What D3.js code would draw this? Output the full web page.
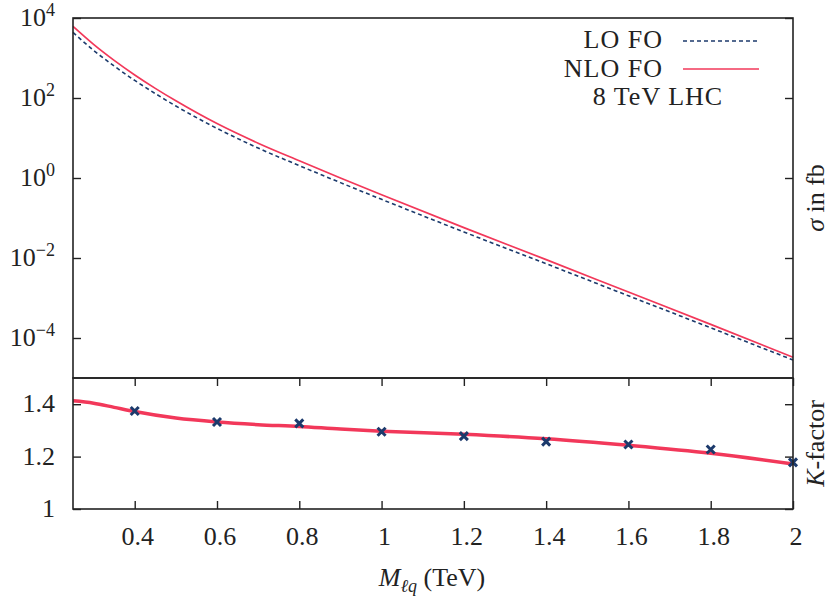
<!DOCTYPE html>
<html>
<head>
<meta charset="utf-8">
<script src="https://cdn.jsdelivr.net/npm/d3@7"></script>
<style>
  body { margin: 0; background: #fff; }
  text { font-family: "Liberation Serif", serif; fill: #222; }
</style>
</head>
<body>
<script>
// mass points (TeV) and cross sections (fb)
var mass = [0.25, 0.3, 0.35, 0.4, 0.45, 0.5, 0.6, 0.7, 0.8, 0.9, 1.0, 1.2, 1.4, 1.6, 1.8, 2.0];
var sigmaLO = [4365, 1550, 630, 275, 129, 63, 17.4, 5.6, 2.04, 0.766, 0.293, 0.0448, 0.00719, 0.001135, 1.80e-4, 2.82e-5];
var sigmaNLO = [6170, 2190, 871, 376, 174, 85, 22.9, 7.41, 2.69, 1.0, 0.38, 0.0575, 0.00912, 0.00141, 2.19e-4, 3.31e-5];

// K-factor curve and points
var kMass = [0.25, 0.3, 0.35, 0.4, 0.5, 0.6, 0.7, 0.8, 0.9, 1.0, 1.2, 1.4, 1.6, 1.8, 2.0];
var kCurve = [1.413, 1.404, 1.388, 1.372, 1.347, 1.332, 1.322, 1.315, 1.305, 1.297, 1.285, 1.268, 1.243, 1.213, 1.172];
var kPtMass = [0.4, 0.6, 0.8, 1.0, 1.2, 1.4, 1.6, 1.8, 2.0];
var kPoints = [1.374, 1.332, 1.327, 1.295, 1.278, 1.257, 1.246, 1.227, 1.178];

var xTicks = [0.4, 0.6, 0.8, 1.0, 1.2, 1.4, 1.6, 1.8, 2.0];
var yTopTicks = [1e-4, 1e-2, 1, 1e2, 1e4];
var yTopExp = ["\u22124", "\u22122", "0", "2", "4"];
var yBotTicks = [1, 1.2, 1.4];

var red = "#f2385a", navy = "#1c3a6c";

var svgWidth = 830, svgHeight = 597;
var pLeft = 73, pRight = 793, pTop = 18, pSplit = 378, pBottom = 509;

var svg = d3.select("body").append("svg")
    .attr("width", svgWidth)
    .attr("height", svgHeight);

var x = d3.scaleLinear().domain([0.25, 2]).range([pLeft, pRight]);
var yTop = d3.scaleLog().domain([1e-5, 1e4]).range([pSplit, pTop]);
var yBot = d3.scaleLinear().domain([1, 1.5]).range([pBottom, pSplit]);

// curves
var lineSigma = d3.line()
    .x(function (d, i) { return x(mass[i]); })
    .y(function (d) { return yTop(d); })
    .curve(d3.curveMonotoneX);

svg.append("path")
    .attr("d", lineSigma(sigmaLO))
    .attr("fill", "none")
    .attr("stroke", navy)
    .attr("stroke-width", 1.6)
    .attr("stroke-dasharray", "4,3");

svg.append("path")
    .attr("d", lineSigma(sigmaNLO))
    .attr("fill", "none")
    .attr("stroke", red)
    .attr("stroke-width", 1.7);

var lineK = d3.line()
    .x(function (d, i) { return x(kMass[i]); })
    .y(function (d) { return yBot(d); })
    .curve(d3.curveMonotoneX);

svg.append("path")
    .attr("d", lineK(kCurve))
    .attr("fill", "none")
    .attr("stroke", red)
    .attr("stroke-width", 3.5);

svg.selectAll(".kpt")
    .data(kPoints)
    .enter()
    .append("path")
    .attr("class", "kpt")
    .attr("transform", function (d, i) { return "translate(" + x(kPtMass[i]) + "," + yBot(d) + ")"; })
    .attr("d", "M-4,-4L4,4M-4,4L4,-4")
    .attr("stroke", navy)
    .attr("stroke-width", 3);

// ticks (inward, no labels)
function ticks(axis, tx, ty) {
    svg.append("g")
        .attr("transform", "translate(" + tx + "," + ty + ")")
        .call(axis.tickSizeInner(-8).tickSizeOuter(0).tickFormat(""))
        .call(function (g) {
            g.select(".domain").remove();
            g.selectAll("line").attr("stroke", "#222").attr("stroke-width", 1.4);
        });
}

ticks(d3.axisLeft(yTop).tickValues(yTopTicks), pLeft, 0);
ticks(d3.axisRight(yTop).tickValues(yTopTicks), pRight, 0);
ticks(d3.axisLeft(yBot).tickValues(yBotTicks), pLeft, 0);
ticks(d3.axisRight(yBot).tickValues(yBotTicks), pRight, 0);
ticks(d3.axisBottom(x).tickValues(xTicks), 0, pBottom);
ticks(d3.axisTop(x).tickValues(xTicks), 0, pSplit);

// frames
svg.append("rect")
    .attr("x", pLeft).attr("y", pTop)
    .attr("width", pRight - pLeft).attr("height", pSplit - pTop)
    .attr("fill", "none").attr("stroke", "#222").attr("stroke-width", 1.6);
svg.append("rect")
    .attr("x", pLeft).attr("y", pSplit)
    .attr("width", pRight - pLeft).attr("height", pBottom - pSplit)
    .attr("fill", "none").attr("stroke", "#222").attr("stroke-width", 1.6);

// tick labels
var topLab = svg.selectAll(".ylabtop")
    .data(yTopTicks)
    .enter()
    .append("text")
    .attr("class", "ylabtop")
    .attr("x", 55)
    .attr("y", function (d) { return yTop(d) + 8; })
    .attr("text-anchor", "end")
    .style("font-size", "26px");
topLab.append("tspan").text("10");
topLab.append("tspan")
    .attr("dy", -10)
    .style("font-size", "18px")
    .text(function (d, i) { return yTopExp[i]; });

svg.selectAll(".ylabbot")
    .data(yBotTicks)
    .enter()
    .append("text")
    .attr("x", 55)
    .attr("y", function (d) { return yBot(d) + 8; })
    .attr("text-anchor", "end")
    .style("font-size", "26px")
    .text(function (d) { return d === 1 ? "1" : d.toFixed(1); });

svg.selectAll(".xlab")
    .data(xTicks)
    .enter()
    .append("text")
    .attr("x", function (d) { return x(d) + 3; })
    .attr("y", 545)
    .attr("text-anchor", "middle")
    .style("font-size", "26px")
    .text(function (d) { return (d === 1 || d === 2) ? String(d) : d.toFixed(1); });

// axis titles
var xt = svg.append("text")
    .attr("x", 432).attr("y", 586)
    .attr("text-anchor", "middle")
    .style("font-size", "26px");
xt.append("tspan").style("font-style", "italic").text("M");
xt.append("tspan").attr("dy", 6).style("font-size", "18px").style("font-style", "italic").text("\u2113q");
xt.append("tspan").attr("dy", -6).text(" (TeV)");

var st = svg.append("text")
    .attr("transform", "translate(824," + ((pTop + pSplit) / 2) + ") rotate(-90)")
    .attr("text-anchor", "middle")
    .style("font-size", "26px");
st.append("tspan").style("font-style", "italic").text("\u03c3");
st.append("tspan").text(" in fb");

var kt = svg.append("text")
    .attr("transform", "translate(824," + ((pSplit + pBottom) / 2) + ") rotate(-90)")
    .attr("text-anchor", "middle")
    .style("font-size", "26px");
kt.append("tspan").style("font-style", "italic").text("K");
kt.append("tspan").text("-factor");

// legend
svg.append("text").attr("x", 663).attr("y", 48).attr("text-anchor", "end")
    .style("font-size", "26px").style("letter-spacing", "1px").text("LO FO");
svg.append("line").attr("x1", 683).attr("x2", 759).attr("y1", 41).attr("y2", 41)
    .attr("stroke", navy).attr("stroke-width", 1.6).attr("stroke-dasharray", "4,3");
svg.append("text").attr("x", 663).attr("y", 77).attr("text-anchor", "end")
    .style("font-size", "26px").style("letter-spacing", "1px").text("NLO FO");
svg.append("line").attr("x1", 683).attr("x2", 759).attr("y1", 69).attr("y2", 69)
    .attr("stroke", red).attr("stroke-width", 1.7);
svg.append("text").attr("x", 658).attr("y", 105).attr("text-anchor", "middle")
    .style("font-size", "26px").style("letter-spacing", "1px").text("8 TeV LHC");
</script>
</body>
</html>
